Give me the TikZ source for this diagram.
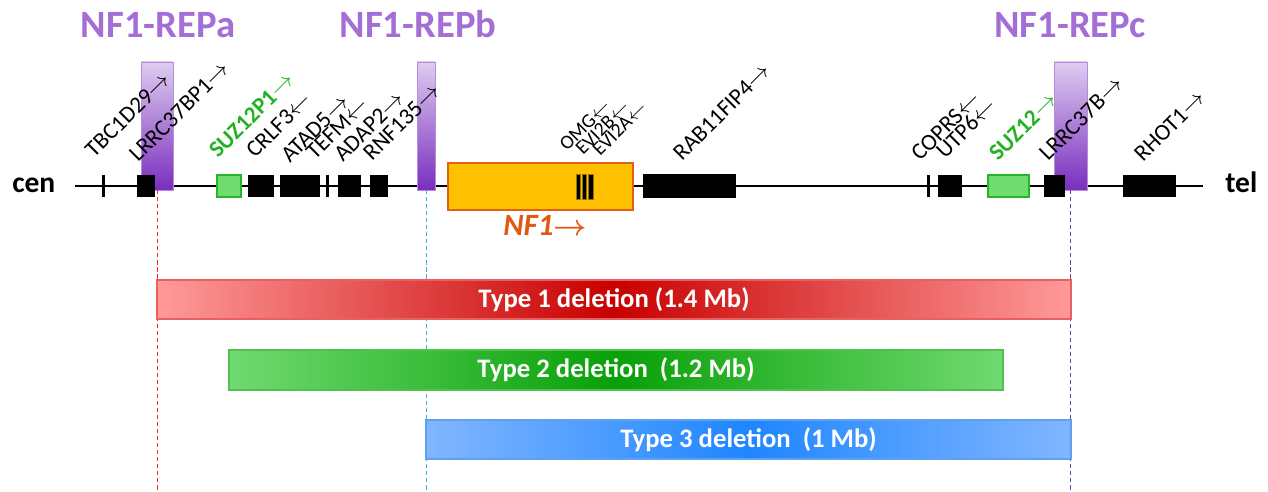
\documentclass[tikz,border=0pt]{standalone}
\usepackage{fontspec}
\setmainfont{Carlito}
\usepackage{tikz}

\definecolor{repcol}{RGB}{163,111,214}
\definecolor{repTop}{RGB}{222,204,240}
\definecolor{repBot}{RGB}{122,46,190}
\definecolor{boxgreen}{RGB}{112,220,112}
\definecolor{edgegreen}{RGB}{40,180,40}
\definecolor{txtgreen}{RGB}{34,178,34}
\definecolor{nfone}{RGB}{255,192,0}
\definecolor{nfedge}{RGB}{226,96,24}
\definecolor{nftxt}{RGB}{226,88,16}
\definecolor{tonelight}{RGB}{255,154,154}
\definecolor{tonedark}{RGB}{200,0,0}
\definecolor{toneedge}{RGB}{232,96,96}
\definecolor{ttwolight}{RGB}{112,218,112}
\definecolor{ttwodark}{RGB}{8,160,8}
\definecolor{ttwoedge}{RGB}{80,192,80}
\definecolor{tthreelight}{RGB}{130,182,255}
\definecolor{tthreedark}{RGB}{30,134,255}
\definecolor{tthreeedge}{RGB}{96,160,240}
\definecolor{bndred}{RGB}{255,40,40}
\definecolor{bndblue}{RGB}{70,176,210}
\definecolor{bndpurple}{RGB}{112,64,170}

\newdimen\pxu \pxu=0.025cm
\newcommand{\fwd}{$\rightarrow$}
\newcommand{\rev}{$\leftarrow$}

\begin{document}
\begin{tikzpicture}[x=0.025cm, y=-0.025cm,
  gw/.style={minimum width=#1*\pxu},
  gene/.style={fill=black, inner sep=0pt, outer sep=0pt, minimum height=22*\pxu},
  pseudo/.style={gene, fill=boxgreen, draw=edgegreen, line width=0.8pt},
  tickmark/.style={gene, minimum width=3*\pxu},
  rep/.style={inner sep=0pt, outer sep=0pt, minimum height=128*\pxu,
    top color=repTop, bottom color=repBot, draw=repTop!60!repBot, line width=0.4pt},
  lbl/.style={rotate=45, anchor=base west, inner sep=0pt, font=\fontsize{16.5}{19}\selectfont},
  tinylbl/.style={lbl, font=\fontsize{14}{16}\selectfont},
  greenlbl/.style={lbl, text=txtgreen, font=\fontsize{16.5}{19}\selectfont\bfseries},
  reptitle/.style={anchor=base, inner sep=0pt, text=repcol, font=\fontsize{27.5}{31}\selectfont\bfseries},
  endlbl/.style={anchor=base west, inner sep=0pt, font=\fontsize{21}{24}\selectfont\bfseries},
  del/.style={inner sep=0pt, outer sep=0pt, minimum height=39*\pxu, text=white,
    font=\fontsize{19}{22}\selectfont\bfseries, line width=0.8pt},
  bound/.style={line width=0.7pt, dash pattern=on 3pt off 2pt}
]
  \useasboundingbox (0,0) rectangle (1268,492);

  % chromosome
  \coordinate (lstart) at (75,186);
  \coordinate (lend) at (1203,186);
  \coordinate (floor) at (0,492);
  \draw[line width=2.1pt] (lstart) -- (lend);
  \node[endlbl] (cen) at (12,193) {cen};
  \node[endlbl] (tel) at (1225,193) {tel};

  % NF1-REP blocks
  \node[rep, gw=32] (repa) at (157,126) {};
  \node[rep, gw=18] (repb) at (426,126) {};
  \node[rep, gw=33] (repc) at (1070.5,126) {};
  \node[reptitle] (ta) at (158,38) {NF1-REPa};
  \node[reptitle] (tb) at (418,38) {NF1-REPb};
  \node[reptitle] (tc) at (1070,38) {NF1-REPc};

  % genes
  \node[tickmark] (tk1) at (103,186) {};
  \node[gene, gw=18] (tbc) at (146,186) {};
  \node[pseudo, gw=24] (suzp) at (229,186) {};
  \node[gene, gw=26] (crlf) at (261,186) {};
  \node[gene, gw=40] (atad) at (300,186) {};
  \node[tickmark] (tk2) at (327,186) {};
  \node[gene, gw=23] (tefm) at (349.5,186) {};
  \node[gene, gw=18] (adap) at (379,186) {};
  \node[gene, gw=93, minimum height=24*\pxu] (rab) at (689.5,186) {};
  \node[tickmark] (tk3) at (928,186) {};
  \node[gene, gw=24] (utp) at (950,186) {};
  \node[pseudo, gw=41] (suz) at (1008.5,186) {};
  \node[gene, gw=21] (lrrc) at (1054.5,186) {};
  \node[gene, gw=53] (rhot) at (1149.5,186) {};

  % NF1 with OMG, EVI2B, EVI2A inside
  \node[fill=nfone, draw=nfedge, line width=0.9pt, inner sep=0pt, gw=185,
    minimum height=47*\pxu] (nf) at (540.5,186.5) {};
  \foreach \sx [count=\i] in {578,584.3,590.6}
    \node[fill=black, draw=nfone!60!black, line width=0.3pt, inner sep=0pt, gw=4.5,
      minimum height=25*\pxu] (ev\i) at (\sx,186.5) {};
  \node[anchor=base west, inner sep=0pt, text=nftxt,
    font=\fontsize{22}{26}\selectfont\bfseries\itshape] (nflbl) at (503,235) {NF1{\boldmath$\rightarrow$}};

  % breakpoints
  \draw[bound, bndred] (repa.south) -- (repa.south |- floor);
  \draw[bound, bndblue] (repb.south) -- (repb.south |- floor);
  \draw[bound, bndpurple] (repc.south) -- (repc.south |- floor);

  % deletions
  \node[del, gw=914, left color=tonelight, right color=tonelight, middle color=tonedark,
    draw=toneedge] (del1) at (614,299.5) {Type 1 deletion (1.4 Mb)};
  \node[del, gw=774, minimum height=40*\pxu, left color=ttwolight, right color=ttwolight,
    middle color=ttwodark, draw=ttwoedge] (del2) at (616,370) {Type 2 deletion\ \ (1.2 Mb)};
  \node[del, gw=645, left color=tthreelight, right color=tthreelight, middle color=tthreedark,
    draw=tthreeedge] (del3) at (748.5,439.5) {Type 3 deletion\ \ (1 Mb)};

  % gene names
  \node[lbl] (ltbc) at (94,159) {TBC1D29\fwd};
  \node[lbl] (llrrcp) at (138,163) {LRRC37BP1\fwd};
  \node[greenlbl] (lsuzp) at (218,159) {SUZ12P1\fwd};
  \node[lbl] (lcrlf) at (255,159) {CRLF3\rev};
  \node[lbl] (latad) at (290,164) {ATAD5\fwd};
  \node[lbl] (ltefm) at (315,161) {TEFM\rev};
  \node[lbl] (ladap) at (343,163) {ADAP2\fwd};
  \node[lbl] (lrnf) at (372,162) {RNF135\fwd};
  \node[tinylbl] (lomg) at (567,152) {OMG\rev};
  \node[tinylbl] (levib) at (583,156) {EVI2B\rev};
  \node[tinylbl] (levia) at (600,157) {EVI2A\rev};
  \node[lbl] (lrab) at (682,162) {RAB11FIP4\fwd};
  \node[lbl] (lcoprs) at (920,162) {COPRS\rev};
  \node[lbl] (lutp) at (945,160) {UTP6\rev};
  \node[greenlbl] (lsuz) at (998,162) {SUZ12\fwd};
  \node[lbl] (llrrc) at (1048,162) {LRRC37B\fwd};
  \node[lbl] (lrhot) at (1143,163) {RHOT1\fwd};
\end{tikzpicture}
\end{document}
